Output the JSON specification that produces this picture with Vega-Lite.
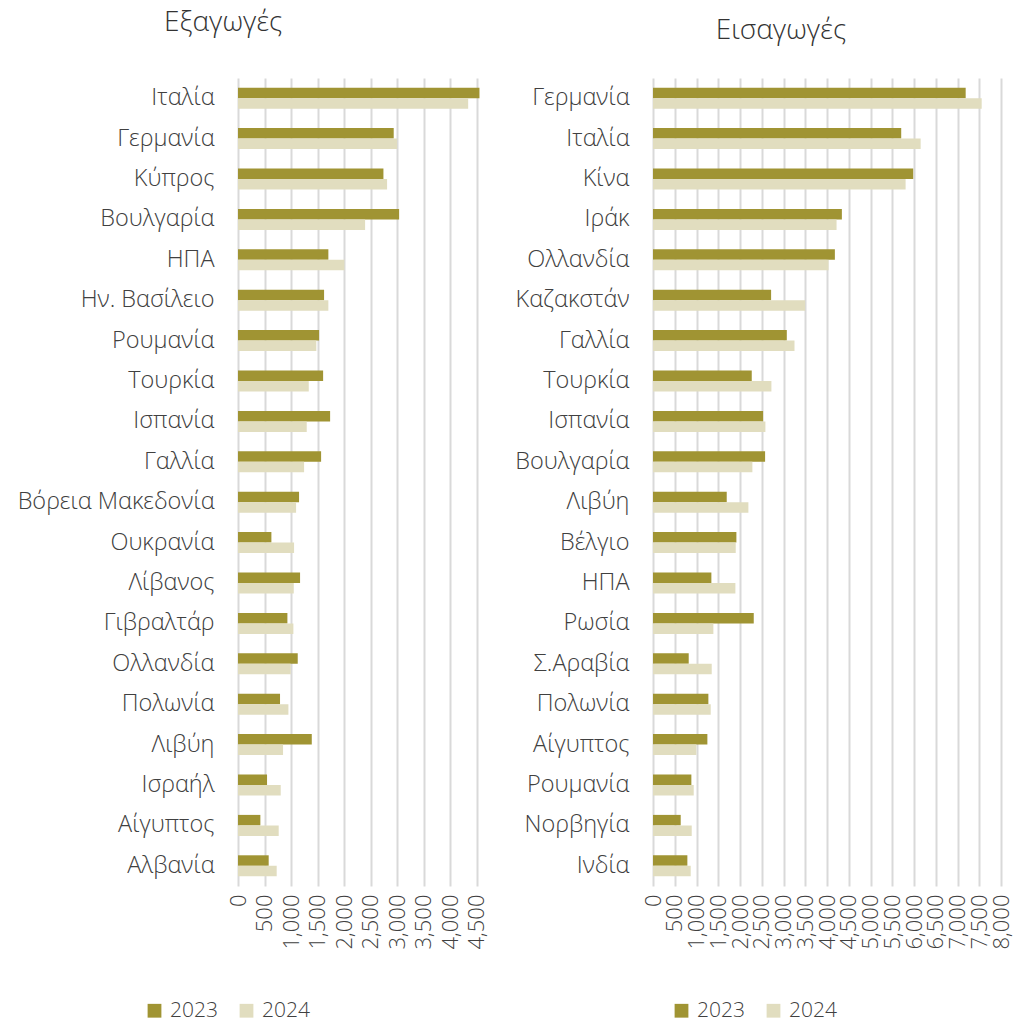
{
  "$schema": "https://vega.github.io/schema/vega-lite/v6.json",
  "background": "white",
  "padding": {"left": 17, "top": 9, "right": 5, "bottom": 30},
  "config": {
    "font": "Open Sans",
    "view": {"stroke": null},
    "axis": {"labelColor": "#404040", "labelFontWeight": 300, "titleColor": "#404040"},
    "legend": {"labelColor": "#404040", "labelFontWeight": 300},
    "title": {"color": "#333333", "fontWeight": 300, "fontSize": 28}
  },
  "datasets": {
    "exp": [
      {"country": "Ιταλία", "year": "2023", "value": 4556}, {"country": "Ιταλία", "year": "2024", "value": 4343},
      {"country": "Γερμανία", "year": "2023", "value": 2938}, {"country": "Γερμανία", "year": "2024", "value": 3002},
      {"country": "Κύπρος", "year": "2023", "value": 2744}, {"country": "Κύπρος", "year": "2024", "value": 2813},
      {"country": "Βουλγαρία", "year": "2023", "value": 3040}, {"country": "Βουλγαρία", "year": "2024", "value": 2398},
      {"country": "ΗΠΑ", "year": "2023", "value": 1705}, {"country": "ΗΠΑ", "year": "2024", "value": 2007},
      {"country": "Ην. Βασίλειο", "year": "2023", "value": 1624}, {"country": "Ην. Βασίλειο", "year": "2024", "value": 1705},
      {"country": "Ρουμανία", "year": "2023", "value": 1530}, {"country": "Ρουμανία", "year": "2024", "value": 1478},
      {"country": "Τουρκία", "year": "2023", "value": 1606}, {"country": "Τουρκία", "year": "2024", "value": 1335},
      {"country": "Ισπανία", "year": "2023", "value": 1738}, {"country": "Ισπανία", "year": "2024", "value": 1297},
      {"country": "Γαλλία", "year": "2023", "value": 1568}, {"country": "Γαλλία", "year": "2024", "value": 1247},
      {"country": "Βόρεια Μακεδονία", "year": "2023", "value": 1152}, {"country": "Βόρεια Μακεδονία", "year": "2024", "value": 1096},
      {"country": "Ουκρανία", "year": "2023", "value": 630}, {"country": "Ουκρανία", "year": "2024", "value": 1058},
      {"country": "Λίβανος", "year": "2023", "value": 1171}, {"country": "Λίβανος", "year": "2024", "value": 1052},
      {"country": "Γιβραλτάρ", "year": "2023", "value": 932}, {"country": "Γιβραλτάρ", "year": "2024", "value": 1045},
      {"country": "Ολλανδία", "year": "2023", "value": 1127}, {"country": "Ολλανδία", "year": "2024", "value": 995},
      {"country": "Πολωνία", "year": "2023", "value": 793}, {"country": "Πολωνία", "year": "2024", "value": 951},
      {"country": "Λιβύη", "year": "2023", "value": 1392}, {"country": "Λιβύη", "year": "2024", "value": 850},
      {"country": "Ισραήλ", "year": "2023", "value": 548}, {"country": "Ισραήλ", "year": "2024", "value": 806},
      {"country": "Αίγυπτος", "year": "2023", "value": 422}, {"country": "Αίγυπτος", "year": "2024", "value": 768},
      {"country": "Αλβανία", "year": "2023", "value": 579}, {"country": "Αλβανία", "year": "2024", "value": 730}
    ],
    "imp": [
      {"country": "Γερμανία", "year": "2023", "value": 7188}, {"country": "Γερμανία", "year": "2024", "value": 7556},
      {"country": "Ιταλία", "year": "2023", "value": 5706}, {"country": "Ιταλία", "year": "2024", "value": 6153},
      {"country": "Κίνα", "year": "2023", "value": 5982}, {"country": "Κίνα", "year": "2024", "value": 5807},
      {"country": "Ιράκ", "year": "2023", "value": 4342}, {"country": "Ιράκ", "year": "2024", "value": 4220},
      {"country": "Ολλανδία", "year": "2023", "value": 4181}, {"country": "Ολλανδία", "year": "2024", "value": 4036},
      {"country": "Καζακστάν", "year": "2023", "value": 2715}, {"country": "Καζακστάν", "year": "2024", "value": 3498},
      {"country": "Γαλλία", "year": "2023", "value": 3076}, {"country": "Γαλλία", "year": "2024", "value": 3253},
      {"country": "Τουρκία", "year": "2023", "value": 2270}, {"country": "Τουρκία", "year": "2024", "value": 2722},
      {"country": "Ισπανία", "year": "2023", "value": 2531}, {"country": "Ισπανία", "year": "2024", "value": 2584},
      {"country": "Βουλγαρία", "year": "2023", "value": 2577}, {"country": "Βουλγαρία", "year": "2024", "value": 2285},
      {"country": "Λιβύη", "year": "2023", "value": 1695}, {"country": "Λιβύη", "year": "2024", "value": 2193},
      {"country": "Βέλγιο", "year": "2023", "value": 1917}, {"country": "Βέλγιο", "year": "2024", "value": 1902},
      {"country": "ΗΠΑ", "year": "2023", "value": 1342}, {"country": "ΗΠΑ", "year": "2024", "value": 1894},
      {"country": "Ρωσία", "year": "2023", "value": 2316}, {"country": "Ρωσία", "year": "2024", "value": 1388},
      {"country": "Σ.Αραβία", "year": "2023", "value": 821}, {"country": "Σ.Αραβία", "year": "2024", "value": 1350},
      {"country": "Πολωνία", "year": "2023", "value": 1273}, {"country": "Πολωνία", "year": "2024", "value": 1327},
      {"country": "Αίγυπτος", "year": "2023", "value": 1250}, {"country": "Αίγυπτος", "year": "2024", "value": 997},
      {"country": "Ρουμανία", "year": "2023", "value": 882}, {"country": "Ρουμανία", "year": "2024", "value": 936},
      {"country": "Νορβηγία", "year": "2023", "value": 637}, {"country": "Νορβηγία", "year": "2024", "value": 890},
      {"country": "Ινδία", "year": "2023", "value": 790}, {"country": "Ινδία", "year": "2024", "value": 867}
    ]
  },
  "spacing": 26,
  "resolve": {"scale": {"color": "independent", "x": "independent", "y": "independent"}},
  "hconcat": [
    {
      "data": {"name": "exp"},
      "width": 238.5,
      "height": 808,
      "title": {"text": "Εξαγωγές", "dx": -134, "offset": 41},
      "mark": {"type": "bar"},
      "encoding": {
        "y": {"field": "country", "type": "nominal", "sort": null,
          "scale": {"paddingInner": 0.48, "paddingOuter": 0.24},
          "axis": {"title": null, "labelFontSize": 23.5, "labelPadding": 24, "labelLimit": 400, "ticks": false, "domain": false}},
        "x": {"field": "value", "type": "quantitative",
          "scale": {"domain": [0, 4500], "nice": false},
          "axis": {"title": null, "values": [0, 500, 1000, 1500, 2000, 2500, 3000, 3500, 4000, 4500], "format": ",d", "labelAngle": -90, "labelFontSize": 22, "labelPadding": 8, "ticks": false, "domain": false, "grid": true, "gridColor": "#D9D9D9", "gridWidth": 2, "labelFlush": false, "labelOverlap": false}},
        "yOffset": {"field": "year", "type": "nominal", "scale": {"paddingInner": 0, "paddingOuter": 0}},
        "color": {"field": "year", "type": "nominal",
          "scale": {"domain": ["2023", "2024"], "range": ["#A09433", "#E1DDBF"]},
          "legend": {"title": null, "orient": "none", "direction": "horizontal", "legendX": -94, "legendY": 922, "symbolType": "square", "symbolSize": 190, "symbolStrokeWidth": 0, "labelFontSize": 21, "columnPadding": 18, "labelOffset": 5}}
      }
    },
    {
      "data": {"name": "imp"},
      "width": 348,
      "height": 808,
      "title": {"text": "Εισαγωγές", "dx": -46, "offset": 33},
      "mark": {"type": "bar"},
      "encoding": {
        "y": {"field": "country", "type": "nominal", "sort": null,
          "scale": {"paddingInner": 0.48, "paddingOuter": 0.24},
          "axis": {"title": null, "labelFontSize": 23.5, "labelPadding": 24, "labelLimit": 400, "ticks": false, "domain": false}},
        "x": {"field": "value", "type": "quantitative",
          "scale": {"domain": [0, 8000], "nice": false},
          "axis": {"title": null, "values": [0, 500, 1000, 1500, 2000, 2500, 3000, 3500, 4000, 4500, 5000, 5500, 6000, 6500, 7000, 7500, 8000], "format": ",d", "labelAngle": -90, "labelFontSize": 22, "labelPadding": 8, "ticks": false, "domain": false, "grid": true, "gridColor": "#D9D9D9", "gridWidth": 2, "labelFlush": false, "labelOverlap": false}},
        "yOffset": {"field": "year", "type": "nominal", "scale": {"paddingInner": 0, "paddingOuter": 0}},
        "color": {"field": "year", "type": "nominal",
          "scale": {"domain": ["2023", "2024"], "range": ["#A09433", "#E1DDBF"]},
          "legend": {"title": null, "orient": "none", "direction": "horizontal", "legendX": 18, "legendY": 922, "symbolType": "square", "symbolSize": 190, "symbolStrokeWidth": 0, "labelFontSize": 21, "columnPadding": 18, "labelOffset": 5}}
      }
    }
  ]
}
